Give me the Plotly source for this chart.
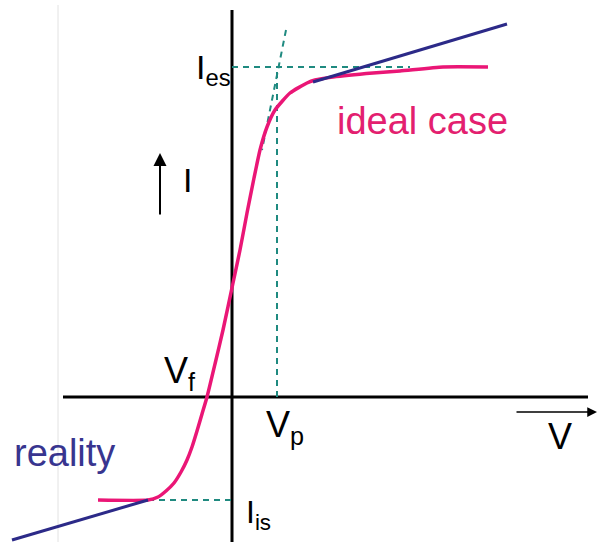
import plotly.graph_objects as go

# Ideal probe characteristic (V, I) in arbitrary units
ideal_V = [-13.4, -8.4, -7.4, -6.6, -5.8, -5.1, -4.5, -4.0, -3.5, -3.0, -2.5, -1.7,
           -0.9, 0.1, 0.8, 1.5, 2.2, 2.8, 3.5, 4.3, 5.8, 7.5, 8.3, 10.1, 14.1, 16.8,
           21.1, 25.6]
ideal_I = [-10.3, -10.3, -10.0, -9.4, -8.6, -7.5, -6.3, -5.0, -3.4, -1.7, 0.0, 3.3,
           6.7, 11.4, 14.7, 18.4, 21.9, 24.7, 27.0, 28.7, 30.4, 31.4, 31.7, 32.0,
           32.4, 32.6, 33.0, 33.0]

# "Reality" asymptotes
real_low_V = [-22.0, -8.4]
real_low_I = [-14.3, -10.3]
real_up_V = [8.1, 27.5]
real_up_I = [31.5, 37.3]

# Construction lines
I_es = 33.0
I_is = -10.3
V_p = 4.5
V_es_end = 17.8
V_is_start = -8.4
tangent_V = [5.4, 3.0]
tangent_I = [36.7, 24.7]

# Axes extents
haxis_V = [-16.9, 35.6]
vaxis_I = [-14.5, 38.7]
frame_V = -17.4
frame_I = [-14.5, 39.2]

PINK = "#ea1676"
NAVY = "#2c2a88"
TEAL = "#1f8a80"
FONT = "Liberation Sans, Arial, sans-serif"

fig = go.Figure()

# faint frame line
fig.add_trace(go.Scatter(x=[frame_V, frame_V], y=frame_I, mode="lines",
                         line=dict(color="#e2e2e2", width=1), hoverinfo="skip"))
# axes
fig.add_trace(go.Scatter(x=haxis_V, y=[0, 0], mode="lines",
                         line=dict(color="black", width=3), hoverinfo="skip"))
fig.add_trace(go.Scatter(x=[0, 0], y=vaxis_I, mode="lines",
                         line=dict(color="black", width=3), hoverinfo="skip"))
# dashed construction lines
dash = dict(color=TEAL, width=2, dash="6px,5px")
fig.add_trace(go.Scatter(x=[0, V_es_end], y=[I_es, I_es], mode="lines", line=dash))
fig.add_trace(go.Scatter(x=[V_p, V_p], y=[0, I_es], mode="lines", line=dash))
fig.add_trace(go.Scatter(x=tangent_V, y=tangent_I, mode="lines", line=dash))
fig.add_trace(go.Scatter(x=[V_is_start, 0], y=[I_is, I_is], mode="lines", line=dash))
# ideal curve
fig.add_trace(go.Scatter(x=ideal_V, y=ideal_I, mode="lines",
                         line=dict(color=PINK, width=3.5, shape="spline", smoothing=0.5)))
# reality
fig.add_trace(go.Scatter(x=real_low_V, y=real_low_I, mode="lines",
                         line=dict(color=NAVY, width=3)))
fig.add_trace(go.Scatter(x=real_up_V, y=real_up_I, mode="lines",
                         line=dict(color=NAVY, width=3)))

def label(text, x, y, size=36, color="black"):
    fig.add_annotation(x=x, y=y, text=text, showarrow=False, xanchor="left",
                       yanchor="middle", font=dict(family=FONT, size=size, color=color))

label("I<sub>es</sub>", -3.8, 32.8, size=34)
label("I<sub>is</sub>", 1.2, -11.7, size=32)
label("V<sub>f</sub>", -7.0, 2.4, size=36)
label("V<sub>p</sub>", 3.2, -3.0, size=36)
label("V", 31.4, -3.9, size=36)
label("I", -5.1, 21.7, size=34)
label("reality", -22.0, -5.6, size=38, color="#38358f")
label("ideal case", 10.3, 27.6, size=38, color="#e3206f")

# arrows
fig.add_annotation(x=-7.2, y=24.4, ax=0, ay=63, text="", showarrow=True,
                   arrowhead=2, arrowsize=1.3, arrowwidth=2, arrowcolor="black",
                   standoff=0, startstandoff=0)
fig.add_annotation(x=36.5, y=-1.5, ax=-82, ay=0, text="", showarrow=True,
                   arrowhead=2, arrowsize=1.3, arrowwidth=1.5, arrowcolor="black",
                   standoff=0, startstandoff=0)

fig.update_layout(
    width=598, height=542, margin=dict(l=0, r=0, t=0, b=0),
    paper_bgcolor="white", plot_bgcolor="white", showlegend=False,
    xaxis=dict(range=[-23.2, 36.6], visible=False, fixedrange=True),
    yaxis=dict(range=[-14.5, 39.7], visible=False, fixedrange=True),
)

fig.write_html("out.html", config={"displayModeBar": False},
               post_script="document.body.style.margin='0';document.body.style.overflow='hidden';")
